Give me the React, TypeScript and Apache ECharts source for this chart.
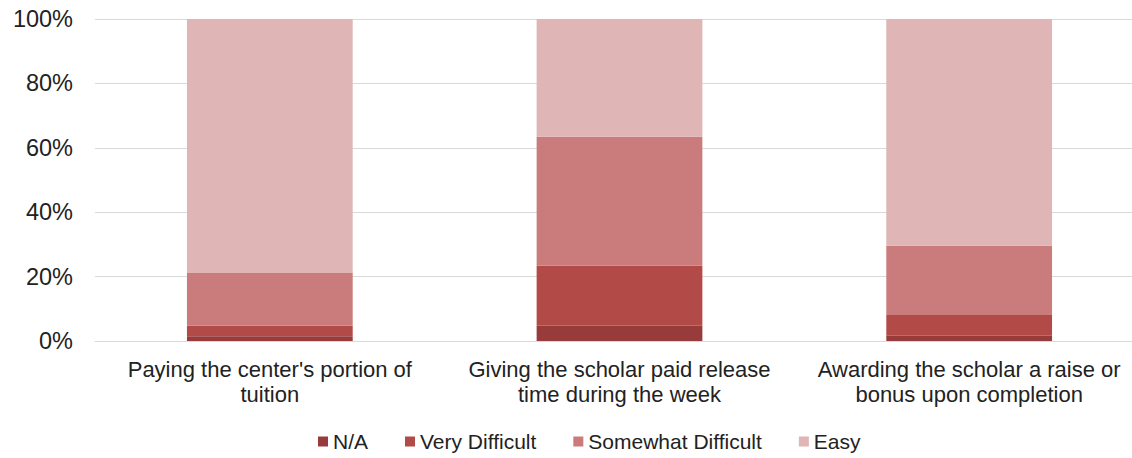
import React, { useEffect, useRef } from "react";
import * as echarts from "echarts";

const categories = [
  "Paying the center's portion of\ntuition",
  "Giving the scholar paid release\ntime during the week",
  "Awarding the scholar a raise or\nbonus upon completion",
];
const naValues = [1.5, 4.7, 1.6];
const veryDifficult = [3.2, 18.7, 6.5];
const somewhatDifficult = [16.4, 40.0, 21.5];
const easy = [78.9, 36.6, 70.4];
const yTicks = [0, 20, 40, 60, 80, 100];

const seriesNames = ["N/A", "Very Difficult", "Somewhat Difficult", "Easy"];
const seriesColors = ["#983c3b", "#b24a47", "#c97c7b", "#dfb5b5"];

export default function App() {
  const ref = useRef<HTMLDivElement>(null);
  useEffect(() => {
    document.body.style.margin = "0";
    const chart = echarts.init(ref.current!, null, { renderer: "svg" });
    const data = [naValues, veryDifficult, somewhatDifficult, easy];
    const ff = "Liberation Sans, Arial, sans-serif";
    chart.setOption({
      animation: false,
      textStyle: { fontFamily: ff },
      grid: { left: 95, top: 19, width: 1049, height: 322, containLabel: false },
      legend: {
        top: 426,
        left: 313,
        data: seriesNames,
        icon: "rect",
        itemWidth: 10,
        itemHeight: 10,
        itemGap: 37,
        textStyle: { fontSize: 21, color: "#222", fontFamily: ff, padding: [0, 0, 0, 0] },
      },
      xAxis: {
        type: "category",
        data: categories,
        axisLine: { show: true, lineStyle: { color: "#d9d9d9", width: 1 } },
        axisTick: { show: false },
        axisLabel: {
          fontSize: 22,
          color: "#222",
          lineHeight: 25,
          margin: 16,
          interval: 0,
          fontFamily: ff,
        },
      },
      yAxis: {
        type: "value",
        min: 0,
        max: 100,
        interval: 20,
        axisLine: { show: false },
        axisTick: { show: false },
        splitLine: { lineStyle: { color: "#d9d9d9", width: 1 } },
        axisLabel: {
          fontSize: 23.5,
          color: "#222",
          margin: 22,
          formatter: (v: number) => (yTicks.includes(v) ? v + "%" : ""),
          fontFamily: ff,
        },
      },
      series: seriesNames.map((name, i) => ({
        name,
        type: "bar",
        stack: "total",
        barWidth: "47.4%",
        data: data[i],
        itemStyle: { color: seriesColors[i] },
      })),
    });
    return () => chart.dispose();
  }, []);
  return (
    <div style={{ width: 1132, height: 458, overflow: "hidden", position: "relative" }}>
      <div ref={ref} style={{ width: 1150, height: 458 }} />
    </div>
  );
}
